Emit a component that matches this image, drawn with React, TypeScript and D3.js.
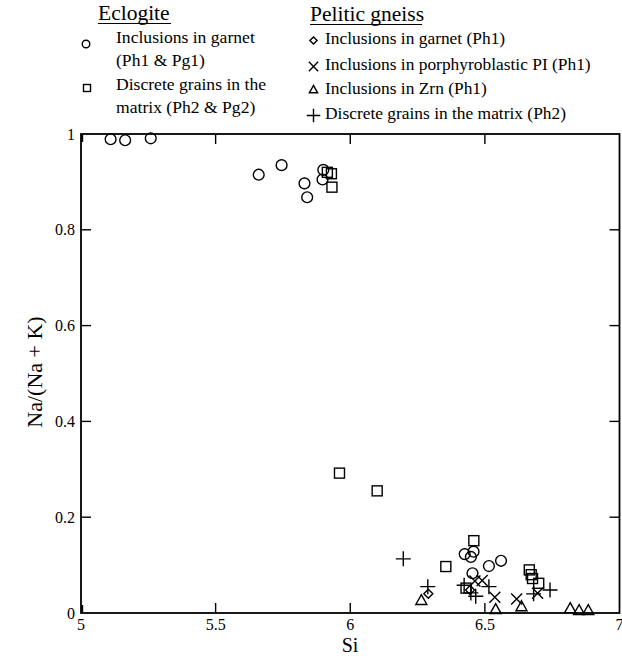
import React from "react";
import * as d3 from "d3";

const xTicks = [5, 5.5, 6, 6.5, 7];
const yTicks = [0, 0.2, 0.4, 0.6, 0.8, 1];
const xTickLabels = ["5", "5.5", "6", "6.5", "7"];
const yTickLabels = ["0", "0.2", "0.4", "0.6", "0.8", "1"];

// Eclogite
const eclInclGarnet: [number, number][] = [
  [5.11, 0.989], [5.164, 0.987], [5.259, 0.991], [5.66, 0.915], [5.745, 0.935],
  [5.83, 0.897], [5.84, 0.868], [5.897, 0.905], [5.9, 0.925],
  [6.425, 0.123], [6.448, 0.117], [6.458, 0.128], [6.515, 0.098], [6.56, 0.109], [6.454, 0.083],
];
const eclMatrix: [number, number][] = [
  [5.915, 0.92], [5.93, 0.917], [5.932, 0.889], [5.96, 0.292], [6.1, 0.255],
  [6.355, 0.097], [6.459, 0.151], [6.43, 0.052], [6.665, 0.09], [6.672, 0.08],
  [6.677, 0.072], [6.7, 0.062],
];
// Pelitic gneiss
const pelInclGarnet: [number, number][] = [[6.29, 0.04], [6.445, 0.048]];
const pelInclPl: [number, number][] = [
  [6.463, 0.067], [6.49, 0.068], [6.537, 0.033], [6.618, 0.029], [6.696, 0.041],
];
const pelInclZrn: [number, number][] = [
  [6.264, 0.027], [6.54, 0.008], [6.636, 0.014], [6.817, 0.01], [6.85, 0.006], [6.884, 0.006],
];
const pelMatrix: [number, number][] = [
  [6.197, 0.113], [6.288, 0.055], [6.423, 0.058], [6.448, 0.042], [6.466, 0.035],
  [6.515, 0.055], [6.681, 0.04], [6.742, 0.048],
];

const FONT = "'Liberation Serif', 'Times New Roman', serif";
const SW = 1.4;

type Shape = "circle" | "square" | "diamond" | "x" | "triangle" | "plus";

function Marker({ shape, cx, cy, s = 1 }: { shape: Shape; cx: number; cy: number; s?: number }) {
  const common = { fill: "none", stroke: "#000", strokeWidth: SW };
  switch (shape) {
    case "circle":
      return <circle cx={cx} cy={cy} r={5.4 * s} {...common} />;
    case "square": {
      const h = 5 * s;
      return <rect x={cx - h} y={cy - h} width={2 * h} height={2 * h} {...common} />;
    }
    case "diamond": {
      const h = 4.5 * s;
      return <path d={`M${cx},${cy - h}L${cx + h},${cy}L${cx},${cy + h}L${cx - h},${cy}Z`} {...common} />;
    }
    case "x": {
      const h = 5.5 * s;
      return <path d={`M${cx - h},${cy - h}L${cx + h},${cy + h}M${cx - h},${cy + h}L${cx + h},${cy - h}`} {...common} />;
    }
    case "triangle": {
      const h = 5.5 * s;
      return <path d={`M${cx},${cy - h}L${cx + h},${cy + h * 0.8}L${cx - h},${cy + h * 0.8}Z`} {...common} />;
    }
    case "plus": {
      const h = 7.5 * s;
      return <path d={`M${cx - h},${cy}L${cx + h},${cy}M${cx},${cy - h}L${cx},${cy + h}`} {...common} />;
    }
  }
}

export default function App() {
  const W = 622, H = 656;
  const x = d3.scaleLinear().domain([5, 7]).range([81, 619.5]);
  const y = d3.scaleLinear().domain([0, 1]).range([613, 134]);
  const [x0, x1] = x.range();
  const [y0, y1] = y.range();
  const tl = 10;

  const series: { data: [number, number][]; shape: Shape }[] = [
    { data: eclInclGarnet, shape: "circle" },
    { data: eclMatrix, shape: "square" },
    { data: pelInclGarnet, shape: "diamond" },
    { data: pelInclPl, shape: "x" },
    { data: pelInclZrn, shape: "triangle" },
    { data: pelMatrix, shape: "plus" },
  ];

  return (
    <svg width={W} height={H} style={{ position: "absolute", left: 0, top: 0, background: "#fff" }} fontFamily={FONT}>
      <rect x={0} y={0} width={W} height={H} fill="#fff" />
      {/* Legend */}
      <g fill="#000">
        <text x={98} y={20} fontSize={21.5}>Eclogite</text>
        <line x1={98} x2={171} y1={23.5} y2={23.5} stroke="#000" strokeWidth={1} />
        <Marker shape="circle" cx={86} cy={44} s={0.7} />
        <text x={116} y={43} fontSize={17.6}>Inclusions in garnet</text>
        <text x={116} y={66} fontSize={17.6}>(Ph1 &amp; Pg1)</text>
        <Marker shape="square" cx={87} cy={88} s={0.7} />
        <text x={116} y={90} fontSize={17.6}>Discrete grains in the</text>
        <text x={116} y={113} fontSize={17.6}>matrix (Ph2 &amp; Pg2)</text>

        <text x={310} y={20.5} fontSize={21.5}>Pelitic gneiss</text>
        <line x1={310} x2={422} y1={24.5} y2={24.5} stroke="#000" strokeWidth={1} />
        <Marker shape="diamond" cx={313.5} cy={40.5} s={0.8} />
        <text x={325} y={43.5} fontSize={17.4}>Inclusions in garnet (Ph1)</text>
        <Marker shape="x" cx={313.5} cy={66.5} s={0.85} />
        <text x={325} y={70} fontSize={17.4}>Inclusions in porphyroblastic PI (Ph1)</text>
        <Marker shape="triangle" cx={313.5} cy={89.5} s={0.75} />
        <text x={325} y={93.5} fontSize={17.4}>Inclusions in Zrn (Ph1)</text>
        <Marker shape="plus" cx={313.5} cy={115.5} s={0.9} />
        <text x={325} y={118.5} fontSize={17.4}>Discrete grains in the matrix (Ph2)</text>
      </g>

      {/* Frame */}
      <rect x={x0} y={y1} width={x1 - x0} height={y0 - y1} fill="none" stroke="#000" strokeWidth={1.8} />
      <line x1={x0 + 1.2} x2={x0 + 1.2} y1={y0} y2={y0 - 8} stroke="#000" strokeWidth={2} />
      <line x1={x0 + 1.2} x2={x0 + 1.2} y1={y1} y2={y1 + 8} stroke="#000" strokeWidth={2} />

      {/* Ticks */}
      {xTicks.slice(1, -1).map((t) => (
        <g key={"xt" + t}>
          <line x1={x(t)} x2={x(t)} y1={y0} y2={y0 - tl} stroke="#000" strokeWidth={1.4} />
          <line x1={x(t)} x2={x(t)} y1={y1} y2={y1 + tl} stroke="#000" strokeWidth={1.4} />
        </g>
      ))}
      {yTicks.slice(1, -1).map((t) => (
        <g key={"yt" + t}>
          <line x1={x0} x2={x0 + tl} y1={y(t)} y2={y(t)} stroke="#000" strokeWidth={1.4} />
          <line x1={x1} x2={x1 - tl} y1={y(t)} y2={y(t)} stroke="#000" strokeWidth={1.4} />
        </g>
      ))}
      {xTicks.map((t, i) => (
        <text key={"xl" + t} x={x(t)} y={630} fontSize={16} textAnchor="middle">{xTickLabels[i]}</text>
      ))}
      {yTicks.map((t, i) => (
        <text key={"yl" + t} x={75} y={y(t) + 5.5} fontSize={16} textAnchor="end">{yTickLabels[i]}</text>
      ))}

      {/* Axis titles */}
      <text x={350} y={651.5} fontSize={20} textAnchor="middle">Si</text>
      <text transform={`translate(42,${372}) rotate(-90)`} fontSize={22} textAnchor="middle">Na/(Na + K)</text>

      {/* Data */}
      {series.map((s, si) => (
        <g key={si}>
          {s.data.map((d, i) => (
            <Marker key={i} shape={s.shape} cx={x(d[0])} cy={y(d[1])} />
          ))}
        </g>
      ))}
    </svg>
  );
}
